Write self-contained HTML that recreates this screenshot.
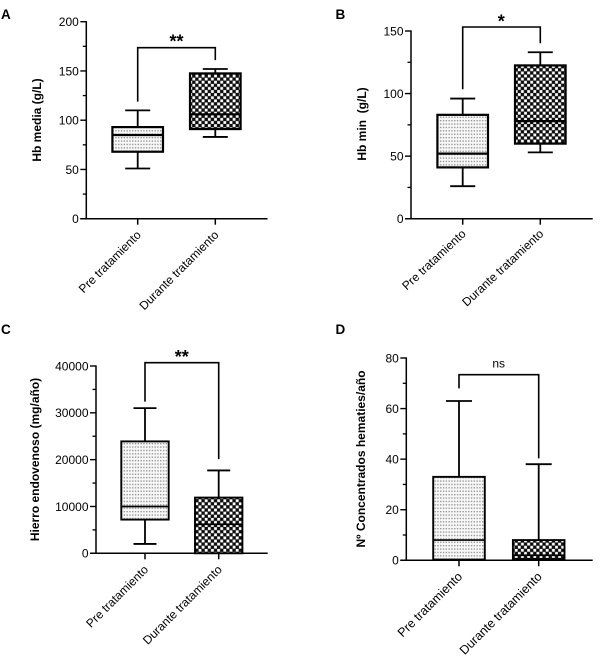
<!DOCTYPE html>
<html lang="es">
<head>
<meta charset="utf-8">
<title>Boxplots pre y durante tratamiento</title>
<style>
html,body{margin:0;padding:0;background:#fff;width:600px;height:667px;overflow:hidden}
svg{display:block;font-family:"Liberation Sans",Arial,sans-serif}
text{fill:#000}
</style>
</head>
<body>
<svg id="figure" width="600" height="667" viewBox="0 0 600 667" xmlns="http://www.w3.org/2000/svg">
<defs>
<pattern id="dots" width="2.8" height="3.4" patternUnits="userSpaceOnUse">
<rect width="2.8" height="3.4" fill="#f7f7f7"/>
<rect x="0.5" y="1" width="1.3" height="1.3" fill="#8c8c8c"/>
</pattern>
<pattern id="checks" width="6.2" height="6.2" patternUnits="userSpaceOnUse">
<rect width="6.2" height="6.2" fill="#0d0d0d"/>
<rect x="3.3" y="0.2" width="2.8" height="2.8" fill="#fff"/>
<rect x="0.2" y="3.3" width="2.8" height="2.8" fill="#fff"/>
</pattern>
<filter id="soft" x="-5%" y="-5%" width="110%" height="110%"><feGaussianBlur stdDeviation="0.35"/></filter>
</defs>
<g id="root" filter="url(#soft)"></g>
</svg>
<script>
const categories = ["Pre tratamiento", "Durante tratamiento"];

const yTicksA = [0, 50, 100, 150, 200];
const whiskerLowA = [51, 83];
const q1A = [68, 91];
const medianA = [85, 106];
const q3A = [93, 147.5];
const whiskerHighA = [110, 152];
const bracketA = [118.8, 173.6, 161];

const yTicksB = [0, 50, 100, 150];
const whiskerLowB = [26, 53];
const q1B = [41, 60];
const medianB = [52, 78];
const q3B = [83, 122.5];
const whiskerHighB = [96, 133];
const bracketB = [103.4, 153.2, 140.2];

const yTicksC = [0, 10000, 20000, 30000, 40000];
const whiskerLowC = [2000, 0];
const q1C = [7200, 0];
const medianC = [10000, 6200];
const q3C = [23900, 11900];
const whiskerHighC = [31000, 17700];
const bracketC = [32400, 40700, 20100];

const yTicksD = [0, 20, 40, 60, 80];
const whiskerLowD = [0, 0];
const q1D = [0.3, 0.5];
const medianD = [8, 2];
const q3D = [33, 8];
const whiskerHighD = [63, 38];
const bracketD = [68, 73.4, 40.3];

const NS = "http://www.w3.org/2000/svg";
const root = document.getElementById("root");

function make(tag, name, parent, attrs, txt) {
  const el = document.createElementNS(NS, tag);
  
  
  for (const k in attrs) el.setAttribute(k, attrs[k]);
  if (txt !== undefined) el.textContent = txt;
  parent.appendChild(el);
  return el;
}

function seg(name, parent, x1, y1, x2, y2, w) {
  return make("line", name, parent, {x1: x1, y1: y1, x2: x2, y2: y2, stroke: "#000", "stroke-width": w});
}

function drawPanel(p) {
  const g = make("g", "panel-" + p.key, root, {});
  const y = v => p.y0 - (v / p.ticks[p.ticks.length - 1]) * (p.y0 - p.yTop);
  const x = i => p.cx[i];

  make("text", "panel-label-" + p.key, g, {x: p.lx, y: p.ly, "font-size": 13.5, "font-weight": "bold"}, p.key.toUpperCase());

  const title = make("text", "y-axis-title", g, {
    transform: "translate(" + p.tx + "," + p.ty + ") rotate(-90)",
    "text-anchor": "middle", "font-size": 12, "font-weight": "bold"
  }, p.title);
  title.style.whiteSpace = "pre";

  // boxes first so axes sit on top
  categories.forEach((c, i) => {
    const b = make("g", "box-" + (i === 0 ? "pre" : "durante"), g, {});
    seg("whisker-upper", b, x(i), y(p.q3[i]), x(i), y(p.hi[i]), 1.8);
    seg("whisker-lower", b, x(i), y(p.q1[i]), x(i), y(p.lo[i]), 1.8);
    seg("cap-upper", b, x(i) - p.cap, y(p.hi[i]), x(i) + p.cap, y(p.hi[i]), 1.8);
    if (p.lo[i] > 0) seg("cap-lower", b, x(i) - p.cap, y(p.lo[i]), x(i) + p.cap, y(p.lo[i]), 1.8);
    make("rect", "box-body", b, {
      x: x(i) - p.hw, y: y(p.q3[i]), width: 2 * p.hw, height: y(p.q1[i]) - y(p.q3[i]),
      fill: i === 0 ? "url(#dots)" : "url(#checks)", stroke: "#000", "stroke-width": p.bw
    });
    seg("median-line", b, x(i) - p.hw, y(p.med[i]), x(i) + p.hw, y(p.med[i]), p.mw);
  });

  seg("y-axis-line", g, p.ax, p.yTop - 0.6, p.ax, p.y0 + 0.6, 1.5);
  seg("x-axis-line", g, p.ax - 6, p.y0, p.xEnd, p.y0, 1.5);

  p.ticks.forEach((t, i) => {
    seg("y-tick", g, p.ax - 6, y(t), p.ax, y(t), 1.4);
    make("text", "y-tick-label", g, {x: p.ax - 7.5, y: y(t) + 4.3, "text-anchor": "end", "font-size": 12}, String(t));
    if (i < p.ticks.length - 1) {
      const m = (t + p.ticks[i + 1]) / 2;
      seg("y-minor-tick", g, p.ax - 3.5, y(m), p.ax, y(m), 1.3);
    }
  });

  categories.forEach((c, i) => {
    seg("x-tick", g, x(i), p.y0, x(i), p.y0 + 6, 1.5);
    make("text", "x-tick-label", g, {
      transform: "translate(" + (x(i) + 4) + "," + (p.y0 + p.labelDy) + ") rotate(" + (-p.labelAngle) + ")",
      "text-anchor": "end", "font-size": p.labelSize
    }, c);
  });

  make("path", "significance-bracket", g, {
    d: "M" + x(0) + " " + y(p.br[0]) + "V" + y(p.br[1]) + "H" + x(1) + "V" + y(p.br[2]),
    fill: "none", stroke: "#000", "stroke-width": 1.6
  });
  make("text", "significance-label", g, {
    x: p.sx, y: p.sy, "text-anchor": "middle",
    "font-size": p.sig === "ns" ? 12 : 18, "font-weight": p.sig === "ns" ? "normal" : "bold"
  }, p.sig);
}

drawPanel({key: "a", title: "Hb media (g/L)", ticks: yTicksA, lo: whiskerLowA, q1: q1A, med: medianA, q3: q3A, hi: whiskerHighA, br: bracketA,
  ax: 86.3, y0: 218.7, yTop: 21.7, xEnd: 267.5, cx: [137.7, 215.3], hw: 25.3, cap: 12.5, bw: 2.2, mw: 2.2,
  labelDy: 17, labelAngle: 45, labelSize: 12,
  lx: 1, ly: 19, tx: 41, ty: 120, sig: "**", sx: 176.5, sy: 47.5});
drawPanel({key: "b", title: "Hb min  (g/L)", ticks: yTicksB, lo: whiskerLowB, q1: q1B, med: medianB, q3: q3B, hi: whiskerHighB, br: bracketB,
  ax: 411, y0: 218.7, yTop: 31, xEnd: 592.7, cx: [462.7, 540.3], hw: 25.3, cap: 12.5, bw: 2.2, mw: 2.2,
  labelDy: 16, labelAngle: 43, labelSize: 12,
  lx: 335.5, ly: 19, tx: 366, ty: 124, sig: "*", sx: 501.3, sy: 27.5});
drawPanel({key: "c", title: "Hierro endovenoso (mg/año)", ticks: yTicksC, lo: whiskerLowC, q1: q1C, med: medianC, q3: q3C, hi: whiskerHighC, br: bracketC,
  ax: 96, y0: 553.3, yTop: 366, xEnd: 267.7, cx: [145, 218.7], hw: 23.7, cap: 11.5, bw: 1.9, mw: 1.7,
  labelDy: 17, labelAngle: 45, labelSize: 12,
  lx: 1, ly: 334, tx: 39, ty: 459.5, sig: "**", sx: 181.7, sy: 363});
drawPanel({key: "d", title: "Nº Concentrados hematies/año", ticks: yTicksD, lo: whiskerLowD, q1: q1D, med: medianD, q3: q3D, hi: whiskerHighD, br: bracketD,
  ax: 406.3, y0: 560.3, yTop: 358, xEnd: 592.7, cx: [459, 538.7], hw: 25.8, cap: 13, bw: 1.9, mw: 1.7,
  labelDy: 17, labelAngle: 45, labelSize: 12.5,
  lx: 335.5, ly: 334, tx: 365, ty: 459, sig: "ns", sx: 498.7, sy: 367.3});
</script>
</body>
</html>
